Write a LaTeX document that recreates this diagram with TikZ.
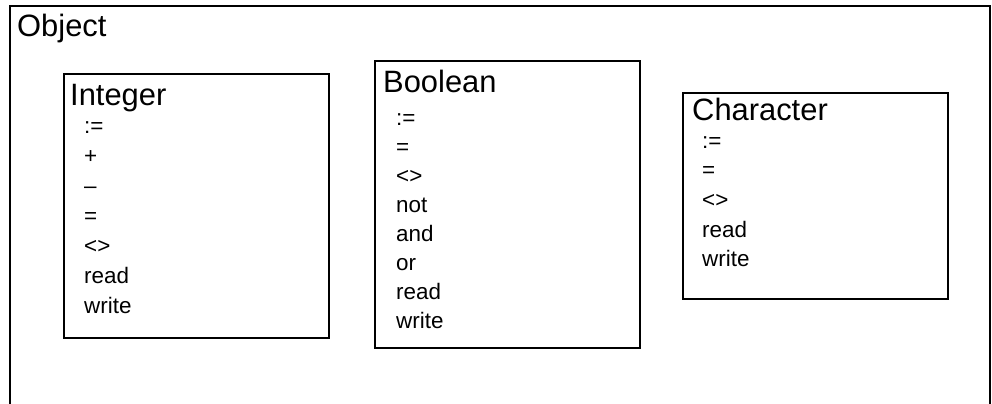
\documentclass[tikz,border=0pt]{standalone}
\usepackage{fontspec}
\setmainfont{Liberation Sans}
\begin{document}
\begin{tikzpicture}[x=1bp,y=-1bp,
  frame/.style={draw=black,line width=2bp,inner sep=0pt,anchor=north west},
  title/.style={anchor=base west,inner sep=0pt,font=\fontsize{31}{35}\selectfont},
  item/.style={anchor=base west,inner sep=0pt,font=\fontsize{22.5}{26}\selectfont}]
\useasboundingbox (0,0) rectangle (992,403);
\begin{scope}
\clip (0,0) rectangle (992,403);
\draw[line width=2.2bp] (10,6) -- (990,6) -- (990,420) -- (10,420) -- cycle;
\end{scope}
\node[title] (obj) at (17,36) {Object};
% Integer
\node[frame,minimum width=265bp,minimum height=264bp] (intbox) at (63,73) {};
\node[title] (int) at (70,105) {Integer};
\foreach \t [count=\i from 0] in {:=,+,–,=,<>,read,write}
  \node[item] (int\i) at (84,133+30*\i) {\t};
% Boolean
\node[frame,minimum width=265bp,minimum height=287bp] (boolbox) at (374,60) {};
\node[title] (bool) at (383,92) {Boolean};
\foreach \t [count=\i from 0] in {:=,=,<>,not,and,or,read,write}
  \node[item] (bool\i) at (396,125+29*\i) {\t};
% Character
\node[frame,minimum width=265bp,minimum height=206bp] (charbox) at (682,92) {};
\node[title] (char) at (692,120) {Character};
\foreach \t [count=\i from 0] in {:=,=,<>,read,write}
  \node[item] (char\i) at (702,148+29.7*\i) {\t};
\end{tikzpicture}
\end{document}
